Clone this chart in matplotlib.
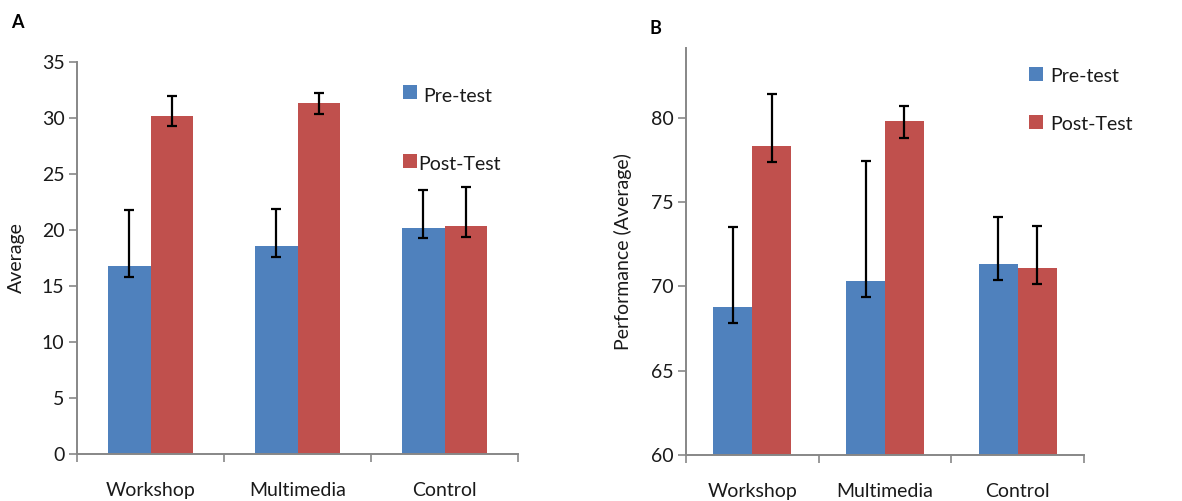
import matplotlib
matplotlib.use("Agg")
import matplotlib.pyplot as plt
from matplotlib.patches import Rectangle
import numpy as np

plt.rcParams['font.family'] = ['Lato', 'DejaVu Sans']

categories = ["Workshop", "Multimedia", "Control"]
series = ["Pre-test", "Post-Test"]

# Panel A
a_pre = [16.8, 18.6, 20.2]
a_pre_lo = [1.0, 1.0, 0.9]
a_pre_hi = [5.0, 3.3, 3.4]
a_post = [30.2, 31.3, 20.4]
a_post_lo = [0.9, 0.9, 1.0]
a_post_hi = [1.8, 0.9, 3.4]

# Panel B
b_pre = [68.8, 70.3, 71.35]
b_pre_lo = [0.95, 0.95, 1.0]
b_pre_hi = [4.7, 7.15, 2.75]
b_post = [78.3, 79.8, 71.1]
b_post_lo = [0.95, 1.0, 0.95]
b_post_hi = [3.1, 0.9, 2.5]

BLUE = "#4F81BD"
RED = "#C0504D"
GRAY = "#878787"
TXT = "#1a1a1a"
FS = 14

W, H = 1182, 501
fig = plt.figure(figsize=(W / 100, H / 100), dpi=100)


def px_axes(x0, x1, ytop, ybot):
    return fig.add_axes([x0 / W, 1 - ybot / H, (x1 - x0) / W, (ybot - ytop) / H])


def draw(ax, pre, pre_lo, pre_hi, post, post_lo, post_hi, ylim, yticks, ylabel, width):
    x = np.arange(len(categories))
    ax.bar(x - width / 2, pre, width, color=BLUE, zorder=2)
    ax.bar(x + width / 2, post, width, color=RED, zorder=2)
    ax.errorbar(x - width / 2, pre, yerr=[pre_lo, pre_hi], fmt='none', ecolor='black',
                elinewidth=1.6, capsize=3.6, capthick=1.6, zorder=3)
    ax.errorbar(x + width / 2, post, yerr=[post_lo, post_hi], fmt='none', ecolor='black',
                elinewidth=1.6, capsize=3.6, capthick=1.6, zorder=3)
    ax.set_xlim(-0.5, len(categories) - 0.5)
    ax.set_ylim(*ylim)
    ax.set_yticks(yticks)
    ax.set_xticks(np.arange(len(categories) + 1) - 0.5)
    ax.set_xticklabels([])
    ax.set_xticks(x, minor=True)
    ax.set_xticklabels(categories, minor=True, fontsize=FS, color=TXT)
    ax.tick_params(axis='x', which='major', length=6, width=1.2, color=GRAY, direction='out')
    ax.tick_params(axis='x', which='minor', length=0, pad=20)
    ax.tick_params(axis='y', length=6, width=1.2, color=GRAY, direction='out',
                   labelsize=FS, labelcolor=TXT, pad=3)
    for s in ['top', 'right']:
        ax.spines[s].set_visible(False)
    for s in ['left', 'bottom']:
        ax.spines[s].set_color(GRAY)
        ax.spines[s].set_linewidth(1.4)
    ax.set_ylabel(ylabel, fontsize=FS, color=TXT)


axA = px_axes(77, 518, 62, 454)
draw(axA, a_pre, a_pre_lo, a_pre_hi, a_post, a_post_lo, a_post_hi,
     (0, 35), np.arange(0, 36, 5), "Average", 0.29)
axA.yaxis.set_label_coords(-0.118, 0.5)

axB = px_axes(686, 1084, 48, 455)
draw(axB, b_pre, b_pre_lo, b_pre_hi, b_post, b_post_lo, b_post_hi,
     (60, 84.13), np.arange(60, 81, 5), "Performance (Average)", 0.293)
axB.yaxis.set_label_coords(-0.135, 0.5)


def legend_entry(x0, y0, size, color, tx, ty, label):
    fig.add_artist(Rectangle((x0 / W, 1 - (y0 + size) / H), size / W, size / H,
                             transform=fig.transFigure, facecolor=color, edgecolor='none'))
    fig.text(tx / W, 1 - ty / H, label, fontsize=FS, va='center', ha='left', color=TXT)


legend_entry(403, 85, 14, BLUE, 423, 96, series[0])
legend_entry(403, 154, 14, RED, 418, 164, series[1])
legend_entry(1029, 67, 14, BLUE, 1050, 76, series[0])
legend_entry(1029, 115, 14, RED, 1050, 124, series[1])

fig.text(17 / W, 1 - 22 / H, "A", fontsize=13, fontweight='bold', va='center', ha='center')
fig.text(655 / W, 1 - 28 / H, "B", fontsize=13, fontweight='bold', va='center', ha='center')

fig.savefig("out.png", dpi=100)
